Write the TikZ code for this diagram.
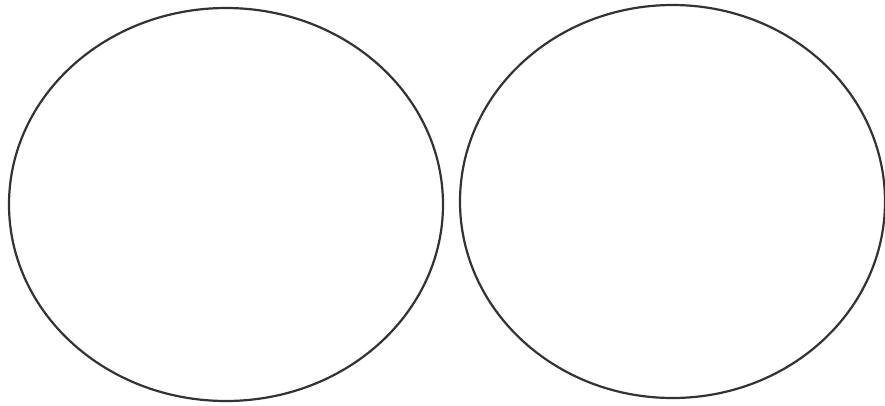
\documentclass[tikz,border=0pt]{standalone}
\begin{document}
\begin{tikzpicture}[x=1pt,y=-1pt,
  ring/.style={draw=black!80, line width=2.2pt}]
\useasboundingbox[fill=white] (0,0) rectangle (885,405);
\draw[ring] (226,204.5) ellipse [x radius=217, y radius=196.5];
\draw[ring] (672.5,201.5) ellipse [x radius=212.5, y radius=196.5];
\end{tikzpicture}
\end{document}
